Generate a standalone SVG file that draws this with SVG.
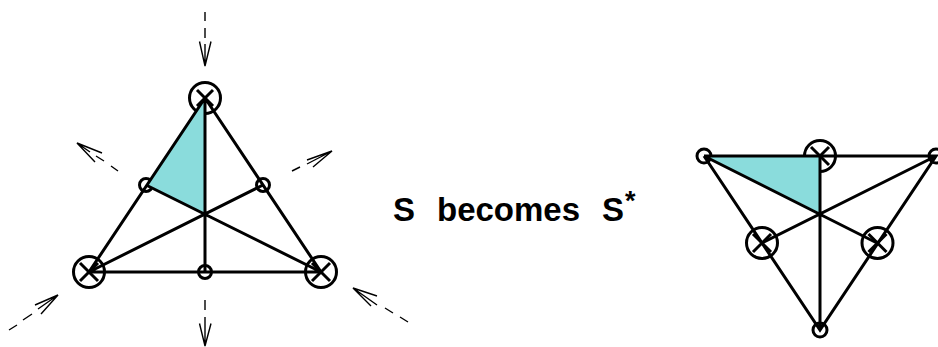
<svg xmlns="http://www.w3.org/2000/svg" width="938" height="347" viewBox="0 0 938 347">
<style>
.l{fill:none;stroke:#000;stroke-width:3;stroke-linecap:butt}
.c{fill:none;stroke:#000;stroke-width:3}
.a{fill:none;stroke:#000;stroke-width:1.4}
.s{fill:#8adcdc;stroke:none}
.t{font-family:"Liberation Sans",Arial,sans-serif;font-weight:700;font-size:33px;fill:#000}
</style>
<rect width="938" height="347" fill="#fff"/>
<g id="node-top"><circle class="c" cx="205" cy="98" r="15.5"/><path class="l" d="M197,90L213,106M213,90L197,106"/></g>
<g id="node-bl"><circle class="c" cx="89" cy="272" r="15.5"/><path class="l" d="M80,263L98,281M98,263L80,281"/></g>
<g id="node-br"><circle class="c" cx="321" cy="272" r="15.5"/><path class="l" d="M312,263L330,281M330,263L312,281"/></g>
<g id="node-ml"><circle class="c" cx="146" cy="185" r="6.5"/></g>
<g id="node-mr"><circle class="c" cx="263" cy="185" r="6.5"/></g>
<g id="node-mb"><circle class="c" cx="205" cy="272" r="6.5"/></g>
<g id="node-r-top"><circle class="c" cx="820" cy="156" r="15.5"/><path class="l" d="M811,147L829,165M829,147L811,165"/></g>
<g id="node-r-l"><circle class="c" cx="762" cy="243" r="15.5"/><path class="l" d="M753,234L771,252M771,234L753,252"/></g>
<g id="node-r-r"><circle class="c" cx="877.500" cy="243" r="15.500"/><path class="l" d="M868.500,234L886.500,252M886.500,234L868.500,252"/></g>
<g id="node-r-a"><circle class="c" cx="704" cy="156" r="7"/></g>
<g id="node-r-b"><circle class="c" cx="936" cy="156" r="7"/></g>
<g id="node-r-c"><circle class="c" cx="820" cy="330" r="7"/></g>
<g id="shade-left"><polygon class="s" points="205,98 146,185 205,213"/></g>
<g id="shade-right"><polygon class="s" points="704,156 820,156 820,213"/></g>
<g id="connectors">
<path class="l" d="M205,98L89,272H321L205,98M205,98V272M89,272L263,185M321,272L146,185"/>
<path class="l" d="M704,156H936L820,330L704,156M820,156V330M704,156L877,243M936,156L762,243"/>
<g id="flow-arrows">
<path class="a" d="M205,12V21M205,28V38M205,44V66M199.500,41.500L205,66L211,41.500"/>
<path class="a" d="M118,171L111,166M104,161L96,156M90,152L77,143M102,153L77,143L95,162"/>
<path class="a" d="M292,171L300,167M307,164L332,151M307,160L332,151L313,167"/>
<path class="a" d="M9,330L17,325M23,320L32,314M38,309L58,295M35,305L58,295L41,314"/>
<path class="a" d="M408,322L400,317M393,313L385,308M377,305L353,288M377,296L353,288L371,306"/>
<path class="a" d="M205,300V310M205,317V346M199.500,323.500L205,346L211,323.500"/>
</g>
</g>
<g id="label"><text class="t" x="393" y="221">S</text><text class="t" x="437" y="221">becomes</text><text class="t" x="602" y="221">S</text><text class="t" x="625" y="210" style="font-size:27px">*</text></g>
</svg>
